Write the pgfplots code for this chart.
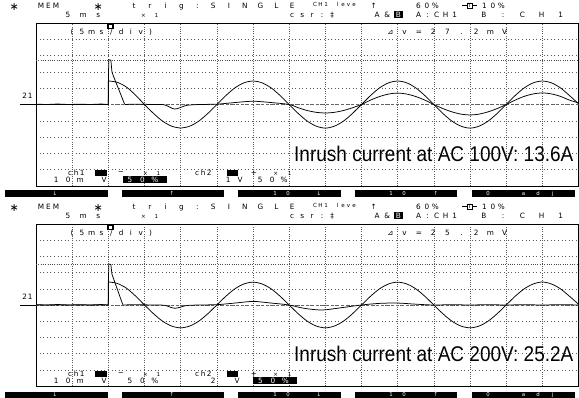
\documentclass[border=0pt]{standalone}
\usepackage{fontspec}
\setmainfont{DejaVu Sans}
\newfontfamily\ann{Liberation Sans}
\usepackage{pgfplots}
\pgfplotsset{compat=1.18}
\newcommand\of{\fontsize{7.3pt}{7.3pt}\selectfont}
\newcommand\ofs{\fontsize{5.6pt}{5.6pt}\selectfont}
\newcommand\ofb{\fontsize{5.4pt}{5.4pt}\selectfont}
\newcommand\ofa{\fontsize{11pt}{11pt}\selectfont}
\ExplSyntaxOn
\dim_new:N \l_osc_cw_dim
\NewDocumentCommand\osc{m m}{
  \dim_set:Nn \l_osc_cw_dim {#1}
  \str_map_inline:nn {#2} {
    \str_if_eq:nnTF {##1} {|} {\makebox[\l_osc_cw_dim][c]{\%}}
    {
      \str_if_eq:nnTF {##1} {_} {\makebox[\l_osc_cw_dim][c]{}}
      {\makebox[\l_osc_cw_dim][c]{##1}}
    }
  }
}
\ExplSyntaxOff
\pgfplotsset{oscaxis/.style={
  scale only axis, width=542.5pt, height=163pt,
  xmin=0,xmax=15,ymin=-5,ymax=5,
  xtick={0,...,15}, ytick={-5,...,5},
  xticklabels={}, yticklabels={},
  major tick length=0pt,
  grid=major,
  major x grid style={black!65, line width=0.55pt, dash pattern=on 0.7pt off 1.6pt},
  major y grid style={black!65, line width=0.55pt, dash pattern=on 0.7pt off 2.9pt},
  axis line style={line width=0.8pt},
  clip=true,
}, tr/.style={black, line width=0.75pt}}
\begin{document}
\begin{tikzpicture}[x=1pt,y=1pt]
\useasboundingbox (0,0) rectangle (579,397);
% ---------------- TOP PANEL ----------------
\begin{axis}[oscaxis, at={(36pt,211pt)}, anchor=south west]
\addplot[black!60, line width=0.6pt, dash pattern=on 3pt off 2pt] coordinates {(0,0)(15,0)};
\addplot[black!70, line width=0.5pt, dash pattern=on 0.7pt off 1.6pt] coordinates {(0,2.72)(15,2.72)};
\addplot[tr, sharp plot] coordinates {(0,0.02)(0.3,0)(0.6,0.03)(0.9,0)(1.2,0.02)(1.5,0)(1.8,0.03)(2,0)(2,1.44)(2.02,1.44)};
\addplot[tr, smooth] coordinates {(2.02,1.44)(2.25,1.36)(2.5,1.07)(2.75,0.58)(3,0)(3.25,-0.55)(3.5,-1.02)(3.75,-1.33)(4,-1.44)(4.25,-1.33)(4.5,-1.02)(4.75,-0.55)(5,0)(5.25,0.55)(5.5,1.02)(5.75,1.33)(6,1.44)(6.25,1.33)(6.5,1.02)(6.75,0.55)(7,0)(7.25,-0.55)(7.5,-1.02)(7.75,-1.33)(8,-1.45)(8.25,-1.33)(8.5,-1.02)(8.75,-0.55)(9,0)(9.25,0.55)(9.5,1.02)(9.75,1.33)(10,1.44)(10.25,1.33)(10.5,1.02)(10.75,0.55)(11,0)(11.25,-0.55)(11.5,-1.02)(11.75,-1.33)(12,-1.45)(12.25,-1.33)(12.5,-1.02)(12.75,-0.55)(13,0)(13.25,0.55)(13.5,1.02)(13.75,1.33)(14,1.44)(14.25,1.33)(14.5,1.02)(14.75,0.55)(15,0.05)};
\addplot[tr, sharp plot] coordinates {(0,0)(2,0)(2.01,2.75)(2.07,2.72)(2.1,2.0)(2.14,1.75)(2.45,0.02)};
\addplot[tr, smooth] coordinates {(2.45,0)(2.8,0.02)(3.2,0)(3.55,-0.02)(3.84,-0.28)(4.15,-0.06)(4.5,0)(5,0.02)(5.5,0.12)(6,0.2)(6.5,0.12)(7,0)(7.25,-0.2)(7.5,-0.37)(7.75,-0.48)(8,-0.52)(8.25,-0.48)(8.5,-0.37)(8.75,-0.2)(9,0)(9.25,0.27)(9.5,0.49)(9.75,0.64)(10,0.7)(10.25,0.64)(10.5,0.49)(10.75,0.27)(11,0)(11.25,-0.25)(11.5,-0.45)(11.75,-0.59)(12,-0.64)(12.25,-0.59)(12.5,-0.45)(12.75,-0.25)(13,0)(13.25,0.27)(13.5,0.5)(13.75,0.65)(14,0.71)(14.25,0.65)(14.5,0.5)(14.75,0.27)(15,0.1)};
\end{axis}
% ---------------- BOTTOM PANEL ----------------
\begin{axis}[oscaxis, height=162pt, at={(36pt,11pt)}, anchor=south west]
\addplot[black!60, line width=0.6pt, dash pattern=on 3pt off 2pt] coordinates {(0,0)(15,0)};
\addplot[black!70, line width=0.5pt, dash pattern=on 0.7pt off 1.6pt] coordinates {(0,2.52)(15,2.52)};
\addplot[tr, sharp plot] coordinates {(0,0.02)(0.3,0)(0.6,0.03)(0.9,0)(1.2,0.02)(1.5,0)(1.8,0.03)(2,0)(2,1.42)(2.02,1.42)};
\addplot[tr, smooth] coordinates {(2.02,1.42)(2.25,1.33)(2.5,1.04)(2.75,0.56)(3,0)(3.25,-0.54)(3.5,-1.0)(3.75,-1.30)(4,-1.41)(4.25,-1.30)(4.5,-1.0)(4.75,-0.54)(5,0)(5.25,0.54)(5.5,1.0)(5.75,1.30)(6,1.41)(6.25,1.30)(6.5,1.0)(6.75,0.54)(7,0)(7.25,-0.54)(7.5,-1.0)(7.75,-1.30)(8,-1.41)(8.25,-1.30)(8.5,-1.0)(8.75,-0.54)(9,0)(9.25,0.54)(9.5,1.0)(9.75,1.30)(10,1.41)(10.25,1.30)(10.5,1.0)(10.75,0.54)(11,0)(11.25,-0.54)(11.5,-1.0)(11.75,-1.30)(12,-1.41)(12.25,-1.30)(12.5,-1.0)(12.75,-0.54)(13,0)(13.25,0.54)(13.5,1.0)(13.75,1.30)(14,1.42)(14.25,1.30)(14.5,1.0)(14.75,0.54)(15,0.05)};
\addplot[tr, sharp plot] coordinates {(0,0)(2,0)(2.01,2.53)(2.07,2.5)(2.1,1.9)(2.14,1.65)(2.4,0.02)};
\addplot[tr, smooth] coordinates {(2.4,0)(2.8,0.02)(3.2,0)(3.55,-0.02)(3.84,-0.2)(4.15,-0.04)(4.5,0)(5,0.02)(5.5,0.12)(6,0.22)(6.5,0.12)(7,0)(7.4,-0.2)(7.9,-0.31)(8.4,-0.18)(9,0)(9.5,0.1)(10,0.12)(10.5,0.05)(11,0)(11.5,0.02)(12,0)(12.5,0.02)(13,0)(13.5,0.02)(14,0)(14.5,0.02)(15,0)};
\end{axis}
% ---------------- TEXT / DECORATIONS ----------------
\foreach \d in {0,201}{
  % header line 1
  \node[anchor=west,inner sep=0] at (10,390-\d) {\ofa\osc{8pt}{∗}};
  \node[anchor=west,inner sep=0] at (37,391-\d) {\of\osc{7.5pt}{MEM}};
  \node[anchor=west,inner sep=0] at (94,390-\d) {\ofa\osc{8pt}{∗}};
  \node[anchor=west,inner sep=0] at (130,391-\d) {\of\osc{7.9pt}{t r i g : S I N G L E}};
  \node[anchor=west,inner sep=0] at (312,393-\d) {\ofs\osc{5.6pt}{CH1 leve}};
  \node[anchor=west,inner sep=0] at (370,391-\d) {\of\osc{7pt}{↑}};
  \node[anchor=west,inner sep=0] at (414,391-\d) {\of\osc{8.5pt}{60|}};
  \draw[line width=0.6pt] (462,391.5-\d)--(477,391.5-\d);
  \node[draw,fill=white,inner sep=0.6pt,line width=0.5pt,font=\ofs] at (469.5,391.5-\d) {T};
  \node[anchor=west,inner sep=0] at (480,391-\d) {\of\osc{8.5pt}{10|}};
  % header line 2
  \node[anchor=west,inner sep=0] at (64,382-\d) {\of\osc{7.6pt}{5 m s}};
  \node[anchor=west,inner sep=0] at (140,382-\d) {\ofs\osc{6.5pt}{× 1}};
  \node[anchor=west,inner sep=0] at (287,382-\d) {\of\osc{10pt}{csr:‡}};
  \node[anchor=west,inner sep=0] at (372,382-\d) {\of\osc{10pt}{A&}};
  \fill (393.5,378.5-\d) rectangle (403,385.5-\d);
  \node[anchor=west,inner sep=0,text=white] at (393.5,382-\d) {\of\osc{9.5pt}{B}};
  \node[anchor=west,inner sep=0] at (414,382-\d) {\of\osc{9pt}{A:CH1}};
  \node[anchor=west,inner sep=0] at (479,382-\d) {\of\osc{9.6pt}{B : C H 1}};
  % inside top
  \node[anchor=west,inner sep=0] at (67,365-\d) {\of\osc{9.8pt}{(5ms/div)}};
  \fill (107,367.5-\d) rectangle (113.5,373.5-\d);
  \fill[white] (108.5,369-\d) rectangle (112,371.5-\d);
  % 21 marker
  \node[inner sep=0] at (27.5,301-\d) {\of\osc{5.5pt}{21}};
  % buttons
  \fill (5,200-\d) rectangle (108,206.5-\d);
  \fill (122,200-\d) rectangle (224,206.5-\d);
  \fill (238,200-\d) rectangle (341,206.5-\d);
  \fill (355,200-\d) rectangle (457,206.5-\d);
  \fill (472,200-\d) rectangle (575,206.5-\d);
  \begin{scope}[every node/.style={inner sep=0,text=white}]
  \node at (55,203.3-\d) {\ofb ↓};
  \node at (172,203.3-\d) {\ofb ↑};
  \node at (281.5,203.3-\d) {\ofb\osc{13pt}{10}};
  \node at (319,203.3-\d) {\ofb ↓};
  \node at (397.5,203.3-\d) {\ofb\osc{13pt}{10}};
  \node at (436,203.3-\d) {\ofb ↑};
  \node at (488,203.3-\d) {\ofb 0};
  \node at (538,203.3-\d) {\ofb\osc{14.5pt}{adj}};
  \end{scope}
  % bottom-left channel info line A
  \node[anchor=west,inner sep=0] at (67,224-\d) {\of\osc{6pt}{ch1}};
  \fill (95,221-\d) rectangle (107,227-\d);
  \node[inner sep=0] at (121,224-\d) {\of −};
  \node[anchor=west,inner sep=0] at (142,224-\d) {\ofs\osc{6.5pt}{× 1}};
  \node[anchor=west,inner sep=0] at (194,224-\d) {\of\osc{6pt}{ch2}};
  \fill (227,221-\d) rectangle (238,227-\d);
  \node[inner sep=0] at (254,224-\d) {\of +};
  \node[anchor=west,inner sep=0] at (272,224-\d) {\ofs\osc{7pt}{× 1}};
  % line B
  \node[anchor=west,inner sep=0] at (50,217.5-\d) {\of\osc{12pt}{10m V}};
}
% panel-specific scale labels
\draw[line width=0.8pt] (20,292.5)--(36,292.5);
\draw[line width=0.8pt] (20,92)--(36,92);
\fill (123,214) rectangle (167,221);
\node[anchor=west,inner sep=0,text=white] at (123.5,217.5) {\of\osc{12.5pt}{50|}};
\node[anchor=west,inner sep=0] at (222,217.5) {\of\osc{12pt}{1V}};
\node[anchor=west,inner sep=0] at (254,217.5) {\of\osc{12pt}{50|}};
\node[anchor=west,inner sep=0] at (123.5,16.5) {\of\osc{12.5pt}{50|}};
\node[anchor=west,inner sep=0] at (207,16.5) {\of\osc{12pt}{2_V}};
\fill (253,13) rectangle (297,20);
\node[anchor=west,inner sep=0,text=white] at (254,16.5) {\of\osc{12.5pt}{50|}};
% delta v readouts
\node[anchor=west,inner sep=0] at (383,365) {\of\osc{14.3pt}{⊿v=27.2mV}};
\node[anchor=west,inner sep=0] at (383,164) {\of\osc{14.3pt}{⊿v=25.2mV}};
% annotations
\node[anchor=base west,inner sep=0] at (294,235) {\ann\fontsize{19pt}{19pt}\selectfont\scalebox{1}[1.12]{Inrush current at AC 100V: 13.6A}};
\node[anchor=base west,inner sep=0] at (294,36) {\ann\fontsize{19pt}{19pt}\selectfont\scalebox{1}[1.12]{Inrush current at AC 200V: 25.2A}};
\end{tikzpicture}
\end{document}
